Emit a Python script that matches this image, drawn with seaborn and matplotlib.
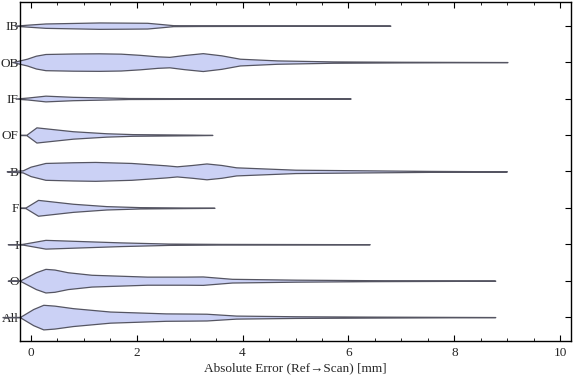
import matplotlib
matplotlib.use("Agg")
import matplotlib.pyplot as plt
import seaborn as sns
from matplotlib.ticker import MultipleLocator

# categories, top to bottom
categorias = ['IB', 'OB', 'IF', 'OF', 'B', 'F', 'I', 'O', 'All']

# violin outlines: error (mm) and relative half width
ib_x = [-0.30, -0.05, 0.28, 0.80, 1.30, 1.80, 2.20, 2.45, 2.69, 3.20, 4.00, 5.50, 6.79]
ib_w = [0, 3, 6.5, 8, 9.5, 9, 8.5, 5, 1.5, 1.0, 0.8, 0.5, 0.2]

ob_x = [-0.34, -0.07, 0.10, 0.28, 0.80, 1.29, 1.70, 2.06, 2.40, 2.62, 2.90, 3.25, 3.60, 3.95, 4.65, 5.70, 7.00, 9.00]
ob_w = [0, 10, 19, 24, 25.5, 26, 25, 21.5, 17, 15.5, 21, 26.5, 20, 10, 5, 2, 1, 0.2]

if_x = [-0.28, -0.05, 0.28, 0.80, 1.43, 1.85, 3.46, 6.04]
if_w = [0, 3, 8.5, 5, 3, 1.5, 0.8, 0.2]

of_x = [-0.20, -0.08, 0.11, 0.80, 1.43, 1.92, 3.04, 3.43]
of_w = [0, 0.5, 22.5, 11, 5, 2.5, 1, 0.2]

b_x = [-0.45, -0.15, 0.00, 0.28, 0.80, 1.22, 1.90, 2.55, 2.76, 3.05, 3.32, 3.60, 3.88, 5.00, 6.40, 7.50, 8.99]
b_w = [0.3, 3, 14, 25, 27, 28, 25, 18, 15, 19, 23.5, 19, 12, 5, 3, 1.5, 0.2]

f_x = [-0.20, -0.10, 0.14, 0.80, 1.43, 2.06, 3.47]
f_w = [0, 0.5, 23.5, 12, 5, 2, 0.2]

i_x = [-0.43, -0.17, 0.28, 0.94, 1.70, 2.60, 3.60, 6.40]
i_w = [0.3, 0.5, 13, 9.5, 5.5, 2, 1, 0.2]

o_x = [-0.43, -0.20, 0.10, 0.28, 0.45, 0.70, 1.15, 2.20, 2.90, 3.25, 3.80, 5.00, 6.40, 8.77]
o_w = [0.3, 0.5, 25, 35, 33, 25, 17.5, 12, 12, 12.5, 5.5, 3, 1.5, 0.2]

all_x = [-0.53, -0.20, 0.05, 0.24, 0.45, 0.80, 1.50, 2.55, 3.00, 3.32, 3.88, 5.00, 6.40, 8.77]
all_w = [0.3, 0.5, 24, 36.5, 34, 26.5, 16.5, 11, 10.5, 10, 4.5, 2.5, 1.5, 0.2]

perfiles = [(ib_x, ib_w), (ob_x, ob_w), (if_x, if_w), (of_x, of_w), (b_x, b_w),
            (f_x, f_w), (i_x, i_w), (o_x, o_w), (all_x, all_w)]

escala = 1 / 108.0  # half width -> fraction of row spacing

sns.set_style("ticks")
plt.rcParams['font.family'] = ['Liberation Serif', 'DejaVu Serif']

fig = plt.figure(figsize=(5.76, 3.81), dpi=100)
ax = fig.add_axes([20 / 576, 1 - 341 / 381, 551 / 576, 340 / 381 - 0.002])

for pos, (xs, ws) in enumerate(perfiles):
    abajo = [pos - w * escala for w in ws]
    arriba = [pos + w * escala for w in ws]
    ax.fill_between(xs, abajo, arriba, facecolor='#cbd1f5', edgecolor='#555562',
                    linewidth=0.9, clip_on=False, zorder=3)

ax.set_xlim(-0.2, 10.2)
ax.set_ylim(8.656, -0.656)
ax.set_yticks(range(len(categorias)))
ax.set_yticklabels(categorias)
ax.xaxis.set_major_locator(MultipleLocator(2))
ax.xaxis.set_minor_locator(MultipleLocator(0.5))
ax.tick_params(axis='x', which='major', direction='in', length=4, width=0.8,
               top=True, labelsize=9.5, pad=4, color='black')
ax.tick_params(axis='x', which='minor', direction='in', length=2.2, width=0.6,
               top=True, color='black')
ax.tick_params(axis='y', direction='in', length=4, width=0.8, right=True,
               labelsize=9.5, pad=1, color='black')
for lado in ax.spines.values():
    lado.set_visible(True)
    lado.set_linewidth(1.0)
    lado.set_color('black')
    lado.set_zorder(4)

ax.set_xlabel('Absolute Error (Ref\u2192Scan) [mm]', fontsize=9.5, labelpad=3)

fig.savefig('out.png', dpi=100)
